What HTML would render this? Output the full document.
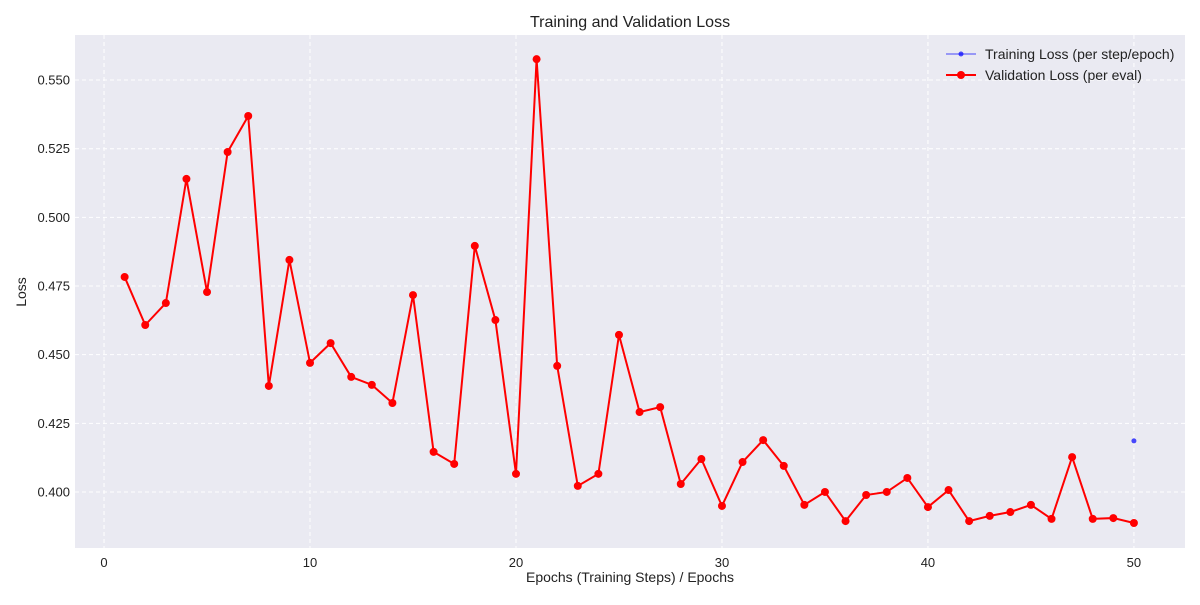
<!DOCTYPE html>
<html><head><meta charset="utf-8"><style>
body{margin:0;background:#fff;font-family:"Liberation Sans",sans-serif;}
svg text{font-family:"Liberation Sans",sans-serif;fill:#222;}
</style></head><body>
<svg id="chart" width="1200" height="600">
<text x="630" y="27" text-anchor="middle" font-size="16">Training and Validation Loss</text>
<rect x="75" y="35" width="1110" height="513" fill="#eaeaf2"/>
<g id="grid"></g><g id="ticks"></g><g id="series"></g>
<text x="630" y="582" text-anchor="middle" font-size="14">Epochs (Training Steps) / Epochs</text>
<text x="26" y="292" text-anchor="middle" font-size="14" transform="rotate(-90 26 292)">Loss</text>
<g>
<g><line x1="946" y1="54" x2="976" y2="54" stroke="#0000ff" stroke-opacity="0.7" stroke-width="1"/><circle cx="961" cy="54" r="2.5" fill="#0000ff" fill-opacity="0.7"/><text x="985" y="59" font-size="14">Training Loss (per step/epoch)</text></g>
<g><line x1="946" y1="75" x2="976" y2="75" stroke="#ff0000" stroke-width="2"/><circle cx="961" cy="75" r="4" fill="#ff0000"/><text x="985" y="80" font-size="14">Validation Loss (per eval)</text></g>
</g>
</svg>
<script>
const valEpochs=[1,2,3,4,5,6,7,8,9,10,11,12,13,14,15,16,17,18,19,20,21,22,23,24,25,26,27,28,29,30,31,32,33,34,35,36,37,38,39,40,41,42,43,44,45,46,47,48,49,50];
const valLoss=[0.4783,0.4608,0.4688,0.5140,0.4728,0.5238,0.5369,0.4386,0.4845,0.4470,0.4542,0.4419,0.4390,0.4324,0.4717,0.4146,0.4102,0.4896,0.4626,0.4066,0.5576,0.4459,0.4022,0.4066,0.4572,0.4291,0.4309,0.4029,0.4120,0.3949,0.4109,0.4189,0.4095,0.3953,0.4000,0.3894,0.3989,0.4000,0.4051,0.3945,0.4007,0.3894,0.3913,0.3927,0.3953,0.3902,0.4127,0.3902,0.3905,0.3887];
const trainEpochs=[50];
const trainLoss=[0.4186];
const xTicks=[0,10,20,30,40,50];
const yTicks=[0.400,0.425,0.450,0.475,0.500,0.525,0.550];
const NS='http://www.w3.org/2000/svg';
const X0=75,X1=1185,Y0=35,Y1=548,xmin=-1.41,xmax=52.48,ymin=0.3796,ymax=0.5664;
const sx=v=>X0+(v-xmin)/(xmax-xmin)*(X1-X0);
const sy=v=>Y1-(v-ymin)/(ymax-ymin)*(Y1-Y0);
function mk(t,a,p){const e=document.createElementNS(NS,t);for(const k in a)e.setAttribute(k,a[k]);p.appendChild(e);return e;}
const grid=document.getElementById('grid'),ticks=document.getElementById('ticks'),series=document.getElementById('series');
xTicks.forEach(t=>{const x=sx(t);
const g=mk('line',{x1:x,x2:x,y1:Y0,y2:Y1,stroke:'#fff','stroke-dasharray':'4,3'},grid);


const l=mk('text',{x:x,y:Y1+19,'text-anchor':'middle','font-size':13},ticks);l.textContent=t;

});
yTicks.forEach(t=>{const y=sy(t);
const g=mk('line',{x1:X0,x2:X1,y1:y,y2:y,stroke:'#fff','stroke-dasharray':'4,3'},grid);


const l=mk('text',{x:X0-5,y:y+4.5,'text-anchor':'end','font-size':13},ticks);l.textContent=t.toFixed(3);

});
const pl=mk('polyline',{points:valEpochs.map((e,i)=>sx(e)+','+sy(valLoss[i])).join(' '),fill:'none',stroke:'#ff0000','stroke-width':2},series);


valEpochs.forEach((e,i)=>{const c=mk('circle',{cx:sx(e),cy:sy(valLoss[i]),r:4,fill:'#ff0000'},series);

});
trainEpochs.forEach((e,i)=>{const c=mk('circle',{cx:sx(e),cy:sy(trainLoss[i]),r:2.5,fill:'#0000ff','fill-opacity':0.7},series);

});
</script>
</body></html>
